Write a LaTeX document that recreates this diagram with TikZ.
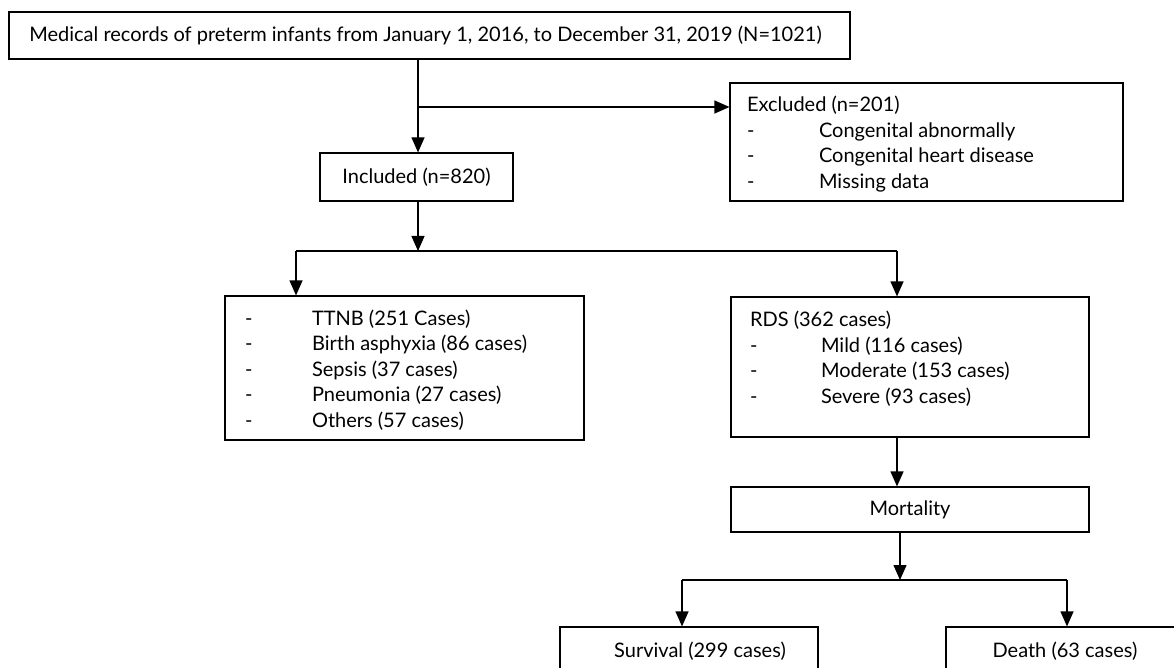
\documentclass[tikz,border=0pt]{standalone}
\usepackage{fontspec}
\setmainfont{Lato}
\usetikzlibrary{arrows.meta}

\tikzset{
	box/.style={draw, line width=1.2pt, inner sep=0pt, align=center},
	arr/.style={line width=1.2pt, -{Triangle[length=15pt,width=13pt]}},
	lnk/.style={line width=1.2pt}
}

\begin{document}
\begin{tikzpicture}[x=1pt, y=-1pt, font=\fontsize{20}{25.5}\selectfont]
	\useasboundingbox (0,0) rectangle (1174,668);
	\clip (0,0) rectangle (1174,668);
	\node[box, minimum width=841pt, minimum height=47pt] (records) at (429.5,35.5) {Medical records of preterm infants from January 1, 2016, to December 31, 2019 (N=1021)\hspace*{8pt}};
	\node[box, minimum width=193pt, minimum height=48pt] (included) at (416.5,177) {Included (n=820)};
	\node[box, minimum width=393pt, minimum height=118pt] (excluded) at (926.5,142) {%
		\begin{tabular}{@{\hspace{17pt}}p{72pt}@{}p{304pt}@{}}
			\multicolumn{2}{@{\hspace{17pt}}l}{Excluded (n=201)}\\
			- & Congenital abnormally\\
			- & Congenital heart disease\\
			- & Missing data\\[-6pt]
		\end{tabular}};
	\node[box, minimum width=359pt, minimum height=144pt] (ttnb) at (404.5,368) {%
		\begin{tabular}{@{\hspace{20pt}}p{67pt}@{}p{272pt}@{}}
			- & TTNB (251 Cases)\\
			- & Birth asphyxia (86 cases)\\
			- & Sepsis (37 cases)\\
			- & Pneumonia (27 cases)\\
			- & Others (57 cases)\\[-6pt]
		\end{tabular}};
	\node[box, minimum width=358pt, minimum height=140pt] (rds) at (910,367) {%
		\begin{tabular}{@{\hspace{19pt}}p{71pt}@{}p{268pt}@{}}
			\multicolumn{2}{@{\hspace{19pt}}l}{RDS (362 cases)}\\
			- & Mild (116 cases)\\
			- & Moderate (153 cases)\\
			- & Severe (93 cases)\\[14pt]
		\end{tabular}};
	\node[box, minimum width=358pt, minimum height=45pt] (mortality) at (910,509.5) {Mortality};
	\node[box, minimum width=258pt, minimum height=48pt] (survival) at (689,651) {\hspace*{22pt}Survival (299 cases)};
	\node[box, minimum width=258pt, minimum height=48pt] (death) at (1075,651) {Death (63 cases)\hspace*{20pt}};

	\coordinate (split1) at (418,107);
	\coordinate (split2) at (418,251);
	\coordinate (left2) at (296,251);
	\coordinate (right2) at (897,251);
	\coordinate (split3) at (900,580);
	\coordinate (left3) at (682,580);
	\coordinate (right3) at (1067,580);

	\draw[arr] (records.south -| split1) -- (included.north -| split1);
	\draw[arr] (split1) -- (split1 -| excluded.west);
	\draw[arr] (included.south -| split2) -- (split2);
	\draw[lnk] (left2) -- (right2);
	\draw[arr] (left2) -- (left2 |- ttnb.north);
	\draw[arr] (right2) -- (right2 |- rds.north);
	\draw[arr] (rds.south -| right2) -- (mortality.north -| right2);
	\draw[arr] (mortality.south -| split3) -- (split3);
	\draw[lnk] (left3) -- (right3);
	\draw[arr] (left3) -- (left3 |- survival.north);
	\draw[arr] (right3) -- (right3 |- death.north);
\end{tikzpicture}
\end{document}
